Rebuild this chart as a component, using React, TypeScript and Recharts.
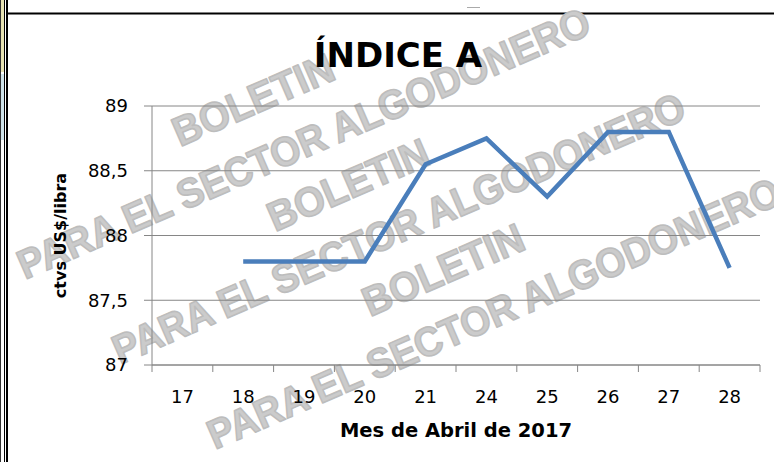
import React from 'react';
import { LineChart, Line, XAxis, YAxis, CartesianGrid } from 'recharts';

const days = ['17', '18', '19', '20', '21', '24', '25', '26', '27', '28'];
const indiceA = [null, 87.8, 87.8, 87.8, 88.55, 88.75, 88.3, 88.8, 88.8, 87.75];
const yTicks = [87, 87.5, 88, 88.5, 89];

const data = days.map((d, i) => ({ day: d, value: indiceA[i] }));

const FONT = '"DejaVu Sans", sans-serif';
const GRID = '#868686';

// watermark rows: where "BOLETIN" starts
const stamps = [
  [180, 147],
  [275, 232],
  [370, 317],
];

const fmt = (v: number) => String(v).replace('.', ',');

// category label plus tick marks on the band edges, like Excel
const DayTick = (props: any) => {
  const { x, y, payload, index, width, visibleTicksCount } = props;
  const bw = (width || 608) / (visibleTicksCount || days.length);
  return (
    <g>
      <line x1={x - bw / 2} y1={y} x2={x - bw / 2} y2={y + 7} stroke={GRID} />
      {index === days.length - 1 && (
        <line x1={x + bw / 2} y1={y} x2={x + bw / 2} y2={y + 7} stroke={GRID} />
      )}
      <text x={x} y={y + 25} dy="0.71em" textAnchor="middle" fontSize={18} fontFamily={FONT} fill="#000">
        {payload.value}
      </text>
    </g>
  );
};

const Background = () => (
  <svg width={774} height={462} style={{ position: 'absolute', left: 0, top: 0 }}>
    {/* page frame bits */}
    <rect x={1} y={0} width={3} height={72} fill="#e6e2b2" />
    <rect x={1} y={74} width={3} height={66} fill="#cfe3ea" />
    <line x1={0.5} y1={0} x2={0.5} y2={462} stroke="#333" />
    <line x1={4.5} y1={0} x2={4.5} y2={462} stroke="#000" />
    <line x1={7} y1={0} x2={7} y2={462} stroke="#000" strokeWidth={2} />
    <line x1={8} y1={13.5} x2={774} y2={13.5} stroke="#000" strokeWidth={2} />
    <line x1={467} y1={7.5} x2={480} y2={7.5} stroke="#aaa" />
    {/* watermark */}
    {stamps.map(([sx, sy], i) => (
      <g key={i} transform={`translate(${sx},${sy}) rotate(-23.5)`} fontFamily='"Liberation Sans", sans-serif' fontWeight="bold" fontSize={41} fill="#cbcbcb" stroke="#bdbdbd" strokeWidth={1.6} strokeLinejoin="round">
        <text x={0} y={0} textLength={172} lengthAdjust="spacingAndGlyphs">BOLETIN</text>
        <text x={-195} y={60} textLength={620} lengthAdjust="spacingAndGlyphs">PARA EL SECTOR ALGODONERO</text>
      </g>
    ))}
    <text x={398} y={67} textAnchor="middle" fontFamily={FONT} fontWeight="bold" fontSize={34} fill="#000">
      ÍNDICE A
    </text>
  </svg>
);

export default function App() {
  return (
    <div style={{ position: 'absolute', left: 0, top: 0, width: 774, height: 462, background: '#fff', overflow: 'hidden' }}>
      <Background />
      <div style={{ position: 'absolute', left: 0, top: 0 }}>
        <LineChart width={774} height={462} data={data} margin={{ top: 106, right: 14, bottom: 17, left: 0 }}>
          <CartesianGrid vertical={false} stroke={GRID} />
          <XAxis
            dataKey="day"
            scale="band"
            height={80}
            stroke={GRID}
            tickLine={false}
            tickSize={0}
            tickMargin={0}
            interval={0}
            tick={<DayTick />}
            label={{ value: 'Mes de Abril de 2017', position: 'insideBottom', offset: 8, fill: '#000', fontSize: 19.5, fontWeight: 'bold', fontFamily: FONT }}
          />
          <YAxis
            width={152}
            domain={[87, 89]}
            ticks={yTicks}
            tickFormatter={fmt}
            stroke={GRID}
            tickSize={8}
            tickMargin={16}
            tick={{ fill: '#000', fontSize: 18, fontFamily: FONT }}
            label={{ value: 'ctvs US$/libra', angle: -90, position: 'center', dx: -16, fill: '#000', fontSize: 16, fontWeight: 'bold', fontFamily: FONT }}
          />
          <Line type="linear" dataKey="value" stroke="#4a7ebb" strokeWidth={4.5} dot={false} isAnimationActive={false} />
        </LineChart>
      </div>
    </div>
  );
}
